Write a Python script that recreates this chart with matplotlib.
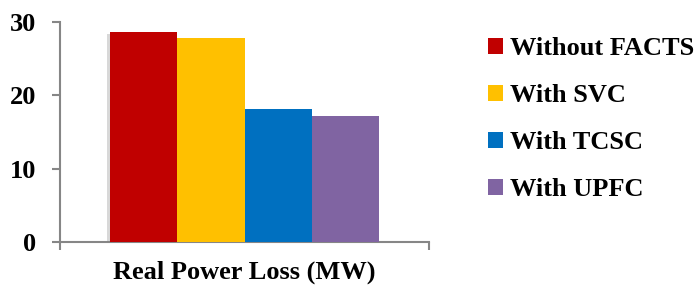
import matplotlib
matplotlib.use("Agg")
import matplotlib.pyplot as plt
import matplotlib.patheffects as pe
import numpy as np

plt.rcParams['font.family'] = ['Liberation Serif', 'DejaVu Serif']
plt.rcParams['font.weight'] = 'bold'

# data
series = ["Without FACTS", "With SVC", "With TCSC", "With UPFC"]
values = [28.6, 27.8, 18.1, 17.2]
colors = ["#C00000", "#FFC000", "#0070C0", "#8064A2"]
category = "Real Power Loss (MW)"

fig = plt.figure(figsize=(6.98, 2.9), dpi=100)
ax = fig.add_axes([0.086, 0.1655, 0.5287, 0.7586])

w = 0.73 / len(series)
offs = (np.arange(len(series)) - (len(series) - 1) / 2) * w
shadow = [pe.SimplePatchShadow(offset=(-2, -1.5), shadow_rgbFace='gray', alpha=0.3), pe.Normal()]
for i in range(len(series)):
    b = ax.bar(offs[i], values[i], width=w, color=colors[i], label=series[i], zorder=3)
    if i == 0:
        b[0].set_path_effects(shadow)

ax.set_xlim(-0.5, 0.5)
ax.set_ylim(0, 30)
ax.set_yticks([0, 10, 20, 30])
ax.set_xticks([-0.5, 0.5])
ax.set_xticklabels(["", ""])
ax.set_xlabel(category, fontsize=19, fontweight='bold', labelpad=4)

for s in ["top", "right"]:
    ax.spines[s].set_visible(False)
for s in ["left", "bottom"]:
    ax.spines[s].set_color("#868686")
    ax.spines[s].set_linewidth(1.5)
ax.tick_params(axis='both', color="#868686", width=1.5, length=6)
ax.tick_params(axis='y', labelsize=19, pad=11)

leg = fig.legend(loc='upper left', bbox_to_anchor=(0.699, 0.871), frameon=False,
                 fontsize=19, handlelength=0.58, handleheight=0.58, handletextpad=0.27,
                 labelspacing=0.905, borderaxespad=0, borderpad=0)
for h in leg.legend_handles:
    h.set_path_effects([])

fig.savefig("out.png", dpi=100)
